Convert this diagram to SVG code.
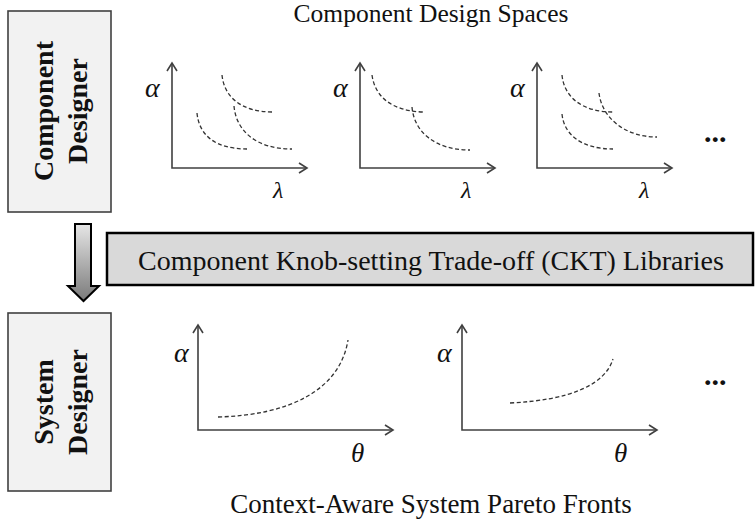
<svg xmlns="http://www.w3.org/2000/svg" width="756" height="522" viewBox="0 0 756 522">
<style>
.t{font-family:"Liberation Serif","Times New Roman",serif;fill:#111}
.title{font-size:27px}
.role{font-size:28px;font-weight:bold;text-anchor:middle}
.box{fill:#f2f2f2;stroke:#404040;stroke-width:1.6}
.ax{fill:none;stroke:#404040;stroke-width:1.6}
.ah{fill:none;stroke:#404040;stroke-width:1.6;stroke-linejoin:miter}
.cv{fill:none;stroke:#333;stroke-width:1.3;stroke-dasharray:4 2.5}
.al{font-style:italic;font-size:28px}
.lm{font-style:italic;font-size:24px}
.th{font-style:italic;font-size:27px}
.dots{font-size:30px;font-weight:bold}
</style>
<defs>
<linearGradient id="ag" x1="0" y1="0" x2="0" y2="1">
<stop offset="0" stop-color="#e6e6e6"/>
<stop offset="1" stop-color="#7a7a7a"/>
</linearGradient>
<g id="axes">
<path class="ax" d="M0,-105 V0 H135"/>
<path class="ah" d="M-5,-97 L0,-105 L5,-97"/>
<path class="ah" d="M127,-5 L135,0 L127,5"/>
</g>
<g id="axes2">
<path class="ax" d="M0,-105 V0 H195"/>
<path class="ah" d="M-5,-97 L0,-105 L5,-97"/>
<path class="ah" d="M187,-5 L195,0 L187,5"/>
</g>
</defs>
<rect width="756" height="522" fill="#fff"/>

<text class="t" x="431" y="22" text-anchor="middle" font-size="25.5">Component Design Spaces</text>

<g id="component-designer">
<rect class="box" x="8" y="11" width="103" height="201"/>
<text class="t role" transform="translate(53,111) rotate(-90)">Component</text>
<text class="t role" transform="translate(87,111) rotate(-90)">Designer</text>
</g>

<g id="system-designer">
<rect class="box" x="8" y="313" width="103" height="178"/>
<text class="t role" transform="translate(53,402) rotate(-90)">System</text>
<text class="t role" transform="translate(87,402) rotate(-90)">Designer</text>
</g>

<g id="ckt-libraries">
<rect x="107" y="233" width="646" height="52" fill="#d9d9d9" stroke="#000" stroke-width="2.5"/>
<text class="t" x="431" y="270" text-anchor="middle" font-size="28">Component Knob-setting  Trade-off (CKT) Libraries</text>
</g>

<g id="connectors">
<path d="M75,224 H91 V286 H99 L83.5,301 L68,286 H75 Z" fill="url(#ag)" stroke="#000" stroke-width="2" stroke-linejoin="miter"/>
</g>

<g id="space1">
<use href="#axes" x="172" y="168"/>
<text class="t al" x="145" y="97">α</text>
<text class="t lm" x="273" y="198">λ</text>
<path class="cv" d="M222,75 C224,96 240,112 273,112"/>
<path class="cv" d="M234,106 C236,130 255,149 292,149"/>
<path class="cv" d="M197,113 C199,135 215,149 247,149"/>
</g>

<g id="space2">
<use href="#axes" x="360" y="168"/>
<text class="t al" x="333" y="97">α</text>
<text class="t lm" x="461" y="198">λ</text>
<path class="cv" d="M372,75 C375,97 392,111 423,112"/>
<path class="cv" d="M412,107 C414,132 435,150 470,150"/>
</g>

<g id="space3">
<use href="#axes" x="537" y="168"/>
<text class="t al" x="510" y="97">α</text>
<text class="t lm" x="639" y="198">λ</text>
<path class="cv" d="M562,75 C564,97 582,112 613,112"/>
<path class="cv" d="M599,93 C602,118 625,137 657,137"/>
<path class="cv" d="M562,114 C564,135 582,149 613,149"/>
<text class="t dots" x="704" y="142">...</text>
</g>

<g id="front1">
<use href="#axes2" x="198" y="430"/>
<text class="t al" x="174" y="362">α</text>
<text class="t th" x="351" y="462">θ</text>
<path class="cv" d="M218,417 C290,415 340,390 348,340"/>
</g>

<g id="front2">
<use href="#axes2" x="462" y="430"/>
<text class="t al" x="437" y="362">α</text>
<text class="t th" x="614" y="462">θ</text>
<path class="cv" d="M510,403 C570,400 605,385 613,359"/>
<text class="t dots" x="704" y="385">...</text>
</g>

<text class="t title" x="431" y="513" text-anchor="middle">Context-Aware  System Pareto Fronts</text>
</svg>
